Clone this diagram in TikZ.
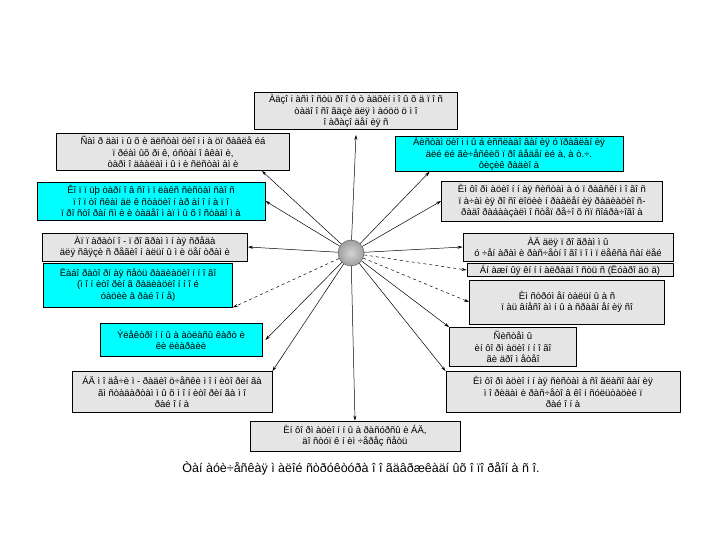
\documentclass[tikz,border=0pt]{standalone}
\usepackage{fontspec}
\setmainfont{Liberation Sans}
\usetikzlibrary{arrows.meta,positioning,calc}
\definecolor{boxgray}{RGB}{229,229,229}
\definecolor{boxcyan}{RGB}{0,255,255}
\tikzset{
  %% grey text box
  gblk/.style={rectangle,draw=black,fill=boxgray,line width=0.8pt,
    font=\fontsize{9.5}{11.2}\selectfont,align=center,inner sep=1pt},
  %% cyan text box
  cblk/.style={gblk,fill=boxcyan},
  %% connectors
  arr/.style={-{Stealth[length=5pt,width=3pt]},line width=0.5pt},
  darr/.style={arr,dashed},
}
\begin{document}
\begin{tikzpicture}[x=1pt,y=-1pt]
  \useasboundingbox[fill=white] (0,0) rectangle (720,540);

  %% hub
  \node[circle,draw=black!70,inner sep=0pt,minimum size=26pt,
    inner color=gray!35,outer color=gray!75] (hub) at (351,253) {};

  %% top and bottom
  \node[gblk,minimum width=203pt,minimum height=37pt] (top) at (356,111)
    {Àäçî i àñì î ñòü ðî î ô ò àäõèí i î û õ ä ï î ñ\\òàäî î ñî ãäçè äëÿ ì àóöö ö ì î\\î àðàçî äåí èÿ ñ};
  \node[gblk,minimum width=210pt,minimum height=30pt] (bot) at (355,436)
    {Èí ôî ðì àöèî í í û à ðàñóðñû è ÁÄ,\\äî ñòóï ê í èì ÷åðåç ñåòü};

  %% left column
  \node[gblk,minimum width=233pt,minimum height=37pt] (l1) at (173,152)
    {Ñàì ð äàì i û õ è äëñòàì öèî i i à öï ðàâëå éá\\ï ðéàì ûõ ði ê, óñòàí î âêàì è,\\òàðì î äààëàì i û i è ñëñòàì àì è};
  \node[cblk,minimum width=228pt,minimum height=38pt] (l2) at (151,201)
    {Êî ï ï üþ òàðí î â ñî ì ï ëàêñ ñèñòàì ñàî ñ\\ï î ï òî ñêàì äë ê ñòàöèî í àð àí î í à ï î\\ï ðî ñòî ðàí ñì è è òàäåî ì àï ì û õ î ñòàäî ì à};
  \node[gblk,minimum width=205pt,minimum height=28pt] (l3) at (145,247)
    {Àï ï àðàòí î - ï ðî ãðàì ì í àÿ ñðåäà\\äëÿ ñâÿçè ñ ðåãèî í àëüí û ì è öåí òðàì è};
  \node[cblk,minimum width=189pt,minimum height=44pt] (l4) at (138,285)
    {Ëàáî ðàòî ðí àÿ ñåòü ðàäèàöèî í í î ãî\\(ì î í èòî ðèí ã ðàäèàöèî í í î é\\óàöèè â ðàé î í å)};
  \node[cblk,minimum width=162pt,minimum height=33pt] (l5) at (181,340)
    {Ýëåêòðî í í û à àòëàñû êàðò è\\êè ëèàðàèè};
  \node[gblk,minimum width=200pt,minimum height=41pt] (l6) at (172,392)
    {ÁÄ ì î äå÷è ì - ðàäèî ö÷åñêè ì î í èòî ðèí ãà\\ãì ñòàäàðòàì ì û õ ì î í èòî ðèí ãà ì î\\ðàé î í à};

  %% right column
  \node[cblk,minimum width=228pt,minimum height=34pt] (r1) at (509,154)
    {Àèñòàì öèî i i û á èññëàäî âàí èÿ ó ïðàâëàí èÿ\\äëé ëé ãè÷åñêèõ ï ðî âåäåí èé à, à ò.÷.\\ôèçèê ðàäèî à};
  \node[gblk,minimum width=221pt,minimum height=40pt] (r2) at (552,201)
    {Èì ôî ðì àöèî í í àÿ ñèñòàì à ó ï ðàâñêí ì î ãî ñ\\ï à÷àì èÿ ðî ñî ëîöèè í ðàâëåí èÿ ðàäèàöèî ñ-\\ðàäî ðàáààçàëì î ñòåï ðå÷î õ ñï ñîáðà÷îãî à};
  \node[gblk,minimum width=210pt,minimum height=28pt] (r3) at (568,247)
    {ÀÄ äëÿ ï ðî ãðàì ì û\\ó ÷åí àðàì è ðàñ÷åòí î ãî ï î ì ï ëåêñà ñàí ëåé};
  \node[gblk,minimum width=206pt,minimum height=13pt] (r4) at (570,270)
    {Áí àæí ûÿ êí í í àëðàäí î ñòü ñ (Ëóàðî äö ä)};
  \node[gblk,minimum width=195pt,minimum height=44pt] (r5) at (567,302)
    {Èì ñòðóì åí òàëüí û à ñ\\ï àü âíåñî àì í û à ñðàâí åí èÿ ñî};
  \node[gblk,minimum width=127pt,minimum height=39pt] (r6) at (513,347)
    {Ñèñòåì û\\èí ôî ðì àöèî í í î ãî\\ãè äðî ì åòåî};
  \node[gblk,minimum width=234pt,minimum height=41pt] (r7) at (563,392)
    {Èì ôî ðì àöèî í í àÿ ñèñòàì à ñî ãëàñî âàí èÿ\\ì î ðèäàì è ðàñ÷åòî â êî í ñóëüòàöèé ï\\ðàé î í à};

  %% caption
  \node[font=\fontsize{12.5}{14}\selectfont] (cap) at (361,468)
    {Òàí àóè÷åñêàÿ ì àëîé ñòðóêòóðà î î ãäâðæêàäí  ûõ î ïî ðåîí à ñ î.};

  %% spokes
  \draw[arr] (hub) -- ([yshift=-5pt]top.south);
  \draw[arr] (hub) -- (bot.north);
  \draw[arr] (hub) -- ([xshift=-28pt]l1.south east);
  \draw[arr] (hub) -- (l2.east);
  \draw[arr] (hub) -- (l3.east);
  \draw[darr] (hub) -- (l4.south east);
  \draw[arr] (hub) -- ([xshift=3pt]l5.east);
  \draw[arr] (hub) -- (l6.north east);
  \draw[arr] (hub) -- ([xshift=35pt]r1.south west);
  \draw[arr] (hub) -- (r2.west);
  \draw[arr] (hub) -- (r3.west);
  \draw[darr] (hub) -- (r4.west);
  \draw[darr] (hub) -- (r5.west);
  \draw[arr] (hub) -- (r6.north west);
  \draw[arr] (hub) -- (r7.north west);
\end{tikzpicture}
\end{document}
